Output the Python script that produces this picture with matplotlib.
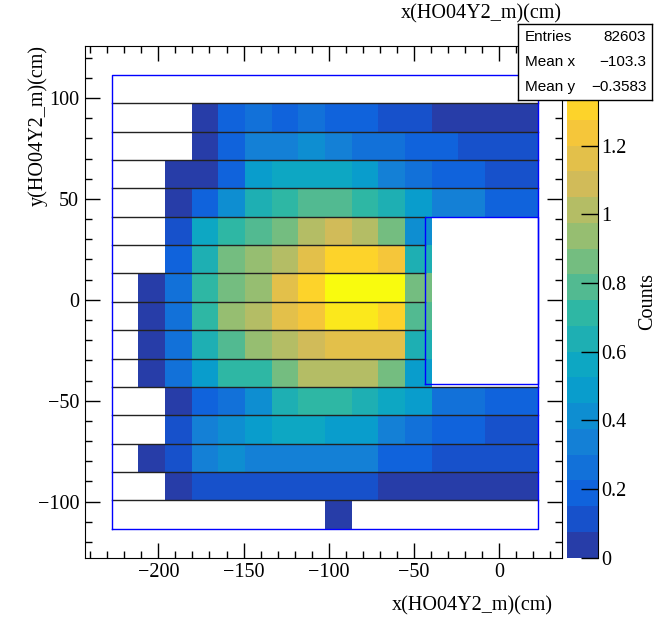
import numpy as np
import matplotlib
matplotlib.use("Agg")
import matplotlib.pyplot as plt
from matplotlib.colors import LinearSegmentedColormap, ListedColormap, BoundaryNorm
from matplotlib.ticker import MultipleLocator

# histogram range (16 x 16 bins)
x_low, x_high, nx = -227.3, 22.9, 16
y_low, y_high, ny = -113.5, 111.5, 16
cut_x = (-43.6, 22.9)
cut_y = (-41.7, 41.2)

# bin contents, top row first (0 = empty bin)
counts = [
    [0, 0, 0, 0, 0, 0, 0, 0, 0, 0, 0, 0, 0, 0, 0, 0],
    [0, 0, 0, 0.04, 0.2, 0.26, 0.2, 0.26, 0.2, 0.2, 0.12, 0.12, 0.04, 0.04, 0.04, 0.04],
    [0, 0, 0, 0.04, 0.2, 0.33, 0.33, 0.4, 0.33, 0.26, 0.26, 0.2, 0.2, 0.12, 0.12, 0.12],
    [0, 0, 0.04, 0.04, 0.2, 0.5, 0.56, 0.56, 0.56, 0.5, 0.33, 0.26, 0.2, 0.2, 0.12, 0.12],
    [0, 0, 0.04, 0.2, 0.42, 0.64, 0.7, 0.78, 0.78, 0.7, 0.64, 0.5, 0.35, 0.33, 0.22, 0.22],
    [0, 0, 0.12, 0.56, 0.7, 0.78, 0.86, 1.0, 1.08, 1.0, 0.86, 0.42, 0, 0, 0, 0],
    [0, 0, 0.2, 0.64, 0.86, 0.94, 1.0, 1.16, 1.3, 1.3, 1.24, 0.64, 0, 0, 0, 0],
    [0, 0.04, 0.26, 0.7, 0.86, 0.94, 1.16, 1.3, 1.45, 1.45, 1.45, 0.86, 0, 0, 0, 0],
    [0, 0.04, 0.26, 0.7, 0.94, 1.0, 1.16, 1.24, 1.38, 1.38, 1.3, 0.78, 0, 0, 0, 0],
    [0, 0.04, 0.26, 0.64, 0.78, 0.94, 1.0, 1.08, 1.16, 1.16, 1.16, 0.64, 0, 0, 0, 0],
    [0, 0.04, 0.26, 0.5, 0.7, 0.7, 0.86, 1.0, 1.0, 1.0, 0.86, 0.5, 0, 0, 0, 0],
    [0, 0, 0.04, 0.2, 0.26, 0.42, 0.64, 0.7, 0.7, 0.64, 0.56, 0.5, 0.26, 0.26, 0.2, 0.2],
    [0, 0, 0.12, 0.35, 0.42, 0.5, 0.56, 0.56, 0.5, 0.5, 0.35, 0.26, 0.2, 0.2, 0.12, 0.12],
    [0, 0.04, 0.12, 0.35, 0.42, 0.35, 0.35, 0.35, 0.35, 0.35, 0.2, 0.2, 0.12, 0.12, 0.12, 0.12],
    [0, 0, 0.04, 0.12, 0.12, 0.12, 0.12, 0.12, 0.12, 0.12, 0.04, 0.04, 0.04, 0.04, 0.04, 0.04],
    [0, 0, 0, 0, 0, 0, 0, 0, 0.04, 0, 0, 0, 0, 0, 0, 0],
]

stats_labels = ["Entries", "Mean x", "Mean y"]
stats_values = ["82603", "\u2212103.3", "\u22120.3583"]
z_ticks = [0, 0.2, 0.4, 0.6, 0.8, 1, 1.2]

# ROOT kBird palette
stops = [0, .125, .25, .375, .5, .625, .75, .875, 1]
red = [0.2082, 0.0592, 0.0780, 0.0232, 0.1802, 0.5301, 0.8186, 0.9956, 0.9764]
green = [0.1664, 0.3599, 0.5041, 0.6419, 0.7178, 0.7492, 0.7328, 0.7862, 0.9832]
blue = [0.5293, 0.8684, 0.8385, 0.7914, 0.6425, 0.4662, 0.3499, 0.1968, 0.0539]
bird = LinearSegmentedColormap.from_list(
    "bird", list(zip(stops, zip(red, green, blue))), N=255)
ndiv = 20
frac = [int((k + 0.99) * 255 / ndiv) / 254 for k in range(ndiv)]
cmap = ListedColormap([bird(f) for f in frac])
levels = np.linspace(0, 1.5, ndiv + 1)
norm = BoundaryNorm(levels, ndiv)

serif = "Liberation Serif"
sans = "Liberation Sans"

W, H = 670, 617
fig = plt.figure(figsize=(W / 100, H / 100), dpi=100)


def box(l, t, r, b):
    return [l / W, 1 - b / H, (r - l) / W, (b - t) / H]


ax = fig.add_axes(box(84.7, 45.7, 562, 557.7))
xe = np.linspace(x_low, x_high, nx + 1)
ye = np.linspace(y_low, y_high, ny + 1)
z = np.flipud(np.array(counts))
z = np.ma.masked_where(z <= 0, z)
ax.pcolormesh(xe, ye, z, cmap=cmap, norm=norm)

# horizontal separators between rows
for yb in ye[1:-1]:
    xr = cut_x[0] if cut_y[0] < yb < cut_y[1] + 1 else x_high
    ax.plot([x_low, xr], [yb, yb], color="#222222", lw=1.0)

ax.plot([x_low, x_high, x_high, x_low, x_low],
        [y_low, y_low, y_high, y_high, y_low], color="blue", lw=1.0)
ax.plot([cut_x[0], cut_x[1], cut_x[1], cut_x[0], cut_x[0]],
        [cut_y[0], cut_y[0], cut_y[1], cut_y[1], cut_y[0]], color="blue", lw=1.0)

ax.set_xlim(-243.2, 36.8)
ax.set_ylim(-127.8, 125.9)
ax.xaxis.set_major_locator(MultipleLocator(50))
ax.xaxis.set_minor_locator(MultipleLocator(10))
ax.yaxis.set_major_locator(MultipleLocator(50))
ax.yaxis.set_minor_locator(MultipleLocator(10))
ax.tick_params(which="both", direction="in", top=True, right=True, width=1)
ax.tick_params(which="major", length=10.5)
ax.tick_params(which="minor", length=5)
ax.tick_params(axis="x", pad=4)
ax.tick_params(axis="y", pad=4)
for lab in ax.get_xticklabels() + ax.get_yticklabels():
    lab.set_fontfamily(serif)
    lab.set_fontsize(14.5)

fig.text(553 / W, 1 - 606 / H, "x(HO04Y2_m)(cm)", ha="right", va="center",
         family=serif, fontsize=14.5)
fig.text(562 / W, 1 - 14 / H, "x(HO04Y2_m)(cm)", ha="right", va="center",
         family=serif, fontsize=14.5)
fig.text(38 / W, 1 - 45 / H, "y(HO04Y2_m)(cm)", ha="center", va="top",
         rotation=90, family=serif, fontsize=14.5)

# colour scale
cax = fig.add_axes(box(567, 100, 598, 557.7))
cax.pcolormesh([0, 1], levels, levels[:-1].reshape(-1, 1), cmap=cmap, norm=norm)
cax.set_xlim(0, 1)
cax.set_ylim(0, 1.333)
cax.set_xticks([])
cax.yaxis.tick_right()
cax.set_yticks(z_ticks)
cax.set_yticklabels([f"{t:g}" for t in z_ticks], family=serif, fontsize=14.5)
cax.tick_params(axis="y", direction="in", length=12, width=1, pad=2)
for s in ["left", "top", "bottom"]:
    cax.spines[s].set_visible(False)
fig.text(648 / W, 1 - 301 / H, "Counts", ha="center", va="center",
         rotation=90, family=serif, fontsize=14.5)

# stats box
sax = fig.add_axes(box(518.3, 24, 651.7, 100))
sax.set_xlim(0, 1)
sax.set_ylim(0, 1)
sax.set_xticks([])
sax.set_yticks([])
sax.set_facecolor("white")
for s in sax.spines.values():
    s.set_linewidth(1)
for i, (lab, val) in enumerate(zip(stats_labels, stats_values)):
    yy = 1 - (i + 0.5) / 3
    sax.text(0.05, yy, lab, ha="left", va="center", family=sans, fontsize=11)
    sax.text(0.96, yy, val, ha="right", va="center", family=sans, fontsize=11)

fig.savefig("out.png", dpi=100)
